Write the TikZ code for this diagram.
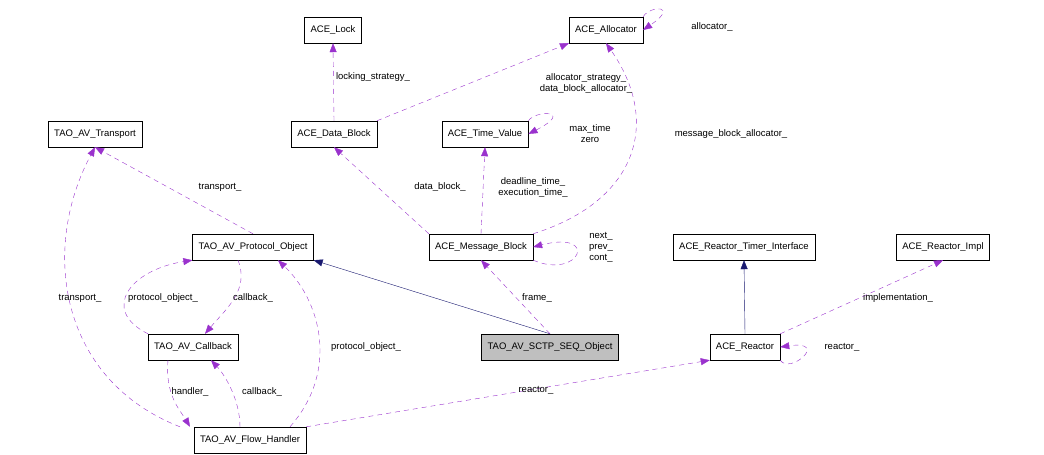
\documentclass[tikz,border=0pt]{standalone}
\usepackage{fontspec}
\setmainfont{Liberation Sans}
\usetikzlibrary{arrows.meta}
\definecolor{edgepurple}{HTML}{9A32CD}
\definecolor{edgenavy}{HTML}{191970}
\begin{document}
\begin{tikzpicture}[x=1pt,y=-1pt,font=\fontsize{9.5}{11}\selectfont,
    cls/.style={draw, rectangle, minimum height=26pt, inner xsep=6pt, fill=white},
    use/.style={draw=edgepurple, dash pattern=on 5pt off 4pt, -{Triangle[length=9pt,width=7pt,fill=edgepurple]}},
    isa/.style={draw=edgenavy, -{Triangle[length=9pt,width=7pt,fill=edgenavy]}},
    lbl/.style={inner sep=0pt, align=center}]
  \useasboundingbox (0,0) rectangle (1044,455);
  % Klassen
  \node[cls] (lock) at (333,30) {ACE\_Lock};
  \node[cls] (alloc) at (606,30) {ACE\_Allocator};
  \node[cls] (transport) at (95,134) {TAO\_AV\_Transport};
  \node[cls] (datablock) at (334,134) {ACE\_Data\_Block};
  \node[cls] (timevalue) at (485,134) {ACE\_Time\_Value};
  \node[cls] (protocol) at (253,247) {TAO\_AV\_Protocol\_Object};
  \node[cls] (msgblock) at (481,247) {ACE\_Message\_Block};
  \node[cls] (timerif) at (744,247) {ACE\_Reactor\_Timer\_Interface};
  \node[cls] (reactorimpl) at (943,247) {ACE\_Reactor\_Impl};
  \node[cls] (callback) at (193,347) {TAO\_AV\_Callback};
  \node[cls, fill=black!25] (sctp) at (550,347) {TAO\_AV\_SCTP\_SEQ\_Object};
  \node[cls] (reactor) at (745,347) {ACE\_Reactor};
  \node[cls] (flow) at (250,440) {TAO\_AV\_Flow\_Handler};

  % Vererbung
  \draw[isa] (sctp.north) -- (protocol.south east);
  \draw[isa] (reactor.north) -- (timerif.south);

  % Beziehungen
  \draw[use] (datablock.north) -- (lock.south);
  \draw[use] (datablock.north east) -- (alloc.south west);
  \draw[use] (msgblock.north east) .. controls (640,200) and (660,120) .. (alloc.south);
  \draw[use] (alloc.north east) .. controls (650,5) and (680,5) .. (alloc.east);
  \draw[use] (timevalue.north east) .. controls (535,110) and (575,110) .. (timevalue.east);
  \draw[use] (msgblock.north west) -- (datablock.south);
  \draw[use] (msgblock.north) -- (timevalue.south);
  \draw[use] (msgblock.south east) .. controls (580,280) and (600,230) .. (msgblock.east);
  \draw[use] (protocol.north) -- (transport.south);
  \draw[use] (sctp.north) -- (msgblock.south);
  \draw[use] (reactor.north east) -- (reactorimpl.south);
  \draw[use] (reactor.south east) .. controls (790,375) and (830,340) .. (reactor.east);
  \draw[use] ([xshift=-45pt]callback.north) .. controls (100,310) and (130,270) .. (protocol.south west);
  \draw[use] ([xshift=-15pt]protocol.south) .. controls (250,290) and (225,310) .. ([xshift=12pt]callback.north);
  \draw[use] ([xshift=-70pt]flow.north) .. controls (60,380) and (40,250) .. (transport.south);
  \draw[use] ([xshift=-25pt]callback.south) .. controls (165,395) and (180,410) .. ([xshift=-60pt]flow.north);
  \draw[use] ([xshift=-10pt]flow.north) .. controls (240,400) and (225,375) .. ([xshift=18pt]callback.south);
  \draw[use] ([xshift=40pt]flow.north) .. controls (340,370) and (320,300) .. ([xshift=25pt]protocol.south);
  \draw[use] (flow.north east) -- (reactor.south west);

  % Beschriftungen
  \node[lbl] (l1) at (373,77) {locking\_strategy\_};
  \node[lbl] (l2) at (586,84) {allocator\_strategy\_\\data\_block\_allocator\_};
  \node[lbl] (l3) at (731,134) {message\_block\_allocator\_};
  \node[lbl] (l4) at (712,27) {allocator\_};
  \node[lbl] (l5) at (590,134) {max\_time\\zero};
  \node[lbl] (l6) at (440,187) {data\_block\_};
  \node[lbl] (l7) at (533,187) {deadline\_time\_\\execution\_time\_};
  \node[lbl] (l8) at (601,247) {next\_\\prev\_\\cont\_};
  \node[lbl] (l9) at (220,187) {transport\_};
  \node[lbl] (l10) at (537,298) {frame\_};
  \node[lbl] (l11) at (898,298) {implementation\_};
  \node[lbl] (l12) at (842,347) {reactor\_};
  \node[lbl] (l13) at (163,298) {protocol\_object\_};
  \node[lbl] (l14) at (253,298) {callback\_};
  \node[lbl] (l15) at (80,298) {transport\_};
  \node[lbl] (l16) at (366,347) {protocol\_object\_};
  \node[lbl] (l17) at (190,392) {handler\_};
  \node[lbl] (l18) at (262,392) {callback\_};
  \node[lbl] (l19) at (536,390) {reactor\_};
\end{tikzpicture}
\end{document}
